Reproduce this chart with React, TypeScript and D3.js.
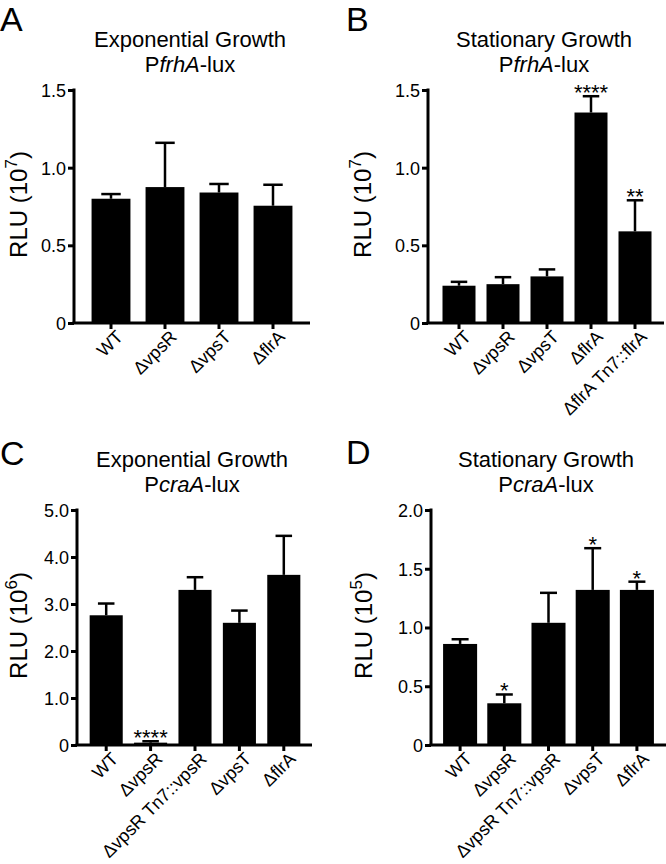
import React, { useEffect, useRef } from 'react';
import * as d3 from "d3";

// panel A: exponential growth, PfrhA-lux (RLU x10^7)
const catsA = ["WT", "ΔvpsR", "ΔvpsT", "ΔflrA"];
const meanA = [0.80, 0.875, 0.84, 0.755];
const semA = [0.03, 0.285, 0.055, 0.135];
const starsA = ["", "", "", ""];
const ticksA = [0, 0.5, 1.0, 1.5];

// panel B: stationary growth, PfrhA-lux (RLU x10^7)
const catsB = ["WT", "ΔvpsR", "ΔvpsT", "ΔflrA", "ΔflrA Tn7::flrA"];
const meanB = [0.24, 0.25, 0.30, 1.355, 0.59];
const semB = [0.025, 0.045, 0.045, 0.105, 0.20];
const starsB = ["", "", "", "****", "**"];
const ticksB = [0, 0.5, 1.0, 1.5];

// panel C: exponential growth, PcraA-lux (RLU x10^6)
const catsC = ["WT", "ΔvpsR", "ΔvpsR Tn7::vpsR", "ΔvpsT", "ΔflrA"];
const meanC = [2.76, 0.05, 3.30, 2.60, 3.62];
const semC = [0.25, 0.03, 0.27, 0.26, 0.83];
const starsC = ["", "****", "", "", ""];
const ticksC = [0, 1.0, 2.0, 3.0, 4.0, 5.0];

// panel D: stationary growth, PcraA-lux (RLU x10^5)
const catsD = ["WT", "ΔvpsR", "ΔvpsR Tn7::vpsR", "ΔvpsT", "ΔflrA"];
const meanD = [0.86, 0.355, 1.04, 1.32, 1.32];
const semD = [0.04, 0.075, 0.255, 0.355, 0.07];
const starsD = ["", "*", "", "*", "*"];
const ticksD = [0, 0.5, 1.0, 1.5, 2.0];

const FONT = "'Liberation Sans', Arial, Helvetica, sans-serif";
const ITALIC = /(frhA|craA)/;

interface PanelSpec {
  letter: string;
  title: string;
  subtitle: string;
  exponent: string;
  cats: string[];
  mean: number[];
  sem: number[];
  stars: string[];
  ticks: number[];
  fmt: (d: number) => string;
  // layout
  x0: number; x1: number; yTop: number; yZero: number;
  band: [number, number]; pad: number;
  lx: number; ly: number; tx: number; ty: number; ax: number;
}

const fmt1 = (d: number) => d === 0 ? "0" : d.toFixed(1);

const panels: PanelSpec[] = [
  {
    letter: "A", title: "Exponential Growth", subtitle: "PfrhA-lux", exponent: "7",
    cats: catsA, mean: meanA, sem: semA, stars: starsA, ticks: ticksA, fmt: fmt1,
    x0: 74, x1: 310, yTop: 90, yZero: 323, band: [84, 300], pad: 0.28,
    lx: 0, ly: 31, tx: 190, ty: 47, ax: 27
  },
  {
    letter: "B", title: "Stationary Growth", subtitle: "PfrhA-lux", exponent: "7",
    cats: catsB, mean: meanB, sem: semB, stars: starsB, ticks: ticksB, fmt: fmt1,
    x0: 428, x1: 664, yTop: 90, yZero: 323, band: [437, 657], pad: 0.25,
    lx: 346, ly: 31, tx: 544, ty: 47, ax: 371
  },
  {
    letter: "C", title: "Exponential Growth", subtitle: "PcraA-lux", exponent: "6",
    cats: catsC, mean: meanC, sem: semC, stars: starsC, ticks: ticksC, fmt: fmt1,
    x0: 77, x1: 312, yTop: 510, yZero: 745, band: [84, 306], pad: 0.255,
    lx: 0, ly: 465, tx: 192, ty: 467, ax: 27
  },
  {
    letter: "D", title: "Stationary Growth", subtitle: "PcraA-lux", exponent: "5",
    cats: catsD, mean: meanD, sem: semD, stars: starsD, ticks: ticksD, fmt: fmt1,
    x0: 431, x1: 666, yTop: 510, yZero: 745, band: [438, 659], pad: 0.23,
    lx: 346, ly: 464, tx: 546, ty: 467, ax: 372
  }
];

// split a label into plain / italic pieces
function rich(sel: d3.Selection<SVGTextElement, unknown, null, undefined>, str: string) {
  str.split(ITALIC).filter(s => s !== "").forEach(part => {
    sel.append("tspan")
      .attr("font-style", ITALIC.test(part) ? "italic" : "normal")
      .text(part);
  });
}

function drawPanel(svg: d3.Selection<SVGSVGElement, unknown, null, undefined>, p: PanelSpec) {
  const g = svg.append("g");
  const top = p.ticks[p.ticks.length - 1];

  const y = d3.scaleLinear().domain([0, top]).range([p.yZero, p.yTop]);
  const x = d3.scaleBand<string>().domain(p.cats).range(p.band)
    .paddingInner(p.pad).paddingOuter(p.pad / 2);
  const bw = x.bandwidth();

  // panel letter
  g.append("text")
    .attr("x", p.lx).attr("y", p.ly)
    .attr("font-size", 34)
    .text(p.letter);

  // title
  g.append("text")
    .attr("x", p.tx).attr("y", p.ty)
    .attr("text-anchor", "middle")
    .attr("font-size", 22)
    .text(p.title);
  const sub = g.append("text")
    .attr("x", p.tx).attr("y", p.ty + 25)
    .attr("text-anchor", "middle")
    .attr("font-size", 22);
  rich(sub, p.subtitle);

  // bars
  g.selectAll(".bar")
    .data(p.cats)
    .enter().append("rect")
    .attr("x", d => x(d) as number)
    .attr("y", (d, i) => y(p.mean[i]))
    .attr("width", bw)
    .attr("height", (d, i) => p.yZero - y(p.mean[i]))
    .attr("fill", "#000");

  // error bars (upper only)
  const cap = bw * 0.25;
  p.cats.forEach((c, i) => {
    const cx = (x(c) as number) + bw / 2;
    const yt = y(p.mean[i] + p.sem[i]);
    g.append("line")
      .attr("x1", cx).attr("x2", cx)
      .attr("y1", y(p.mean[i])).attr("y2", yt)
      .attr("stroke", "#000").attr("stroke-width", 2.5);
    g.append("line")
      .attr("x1", cx - cap).attr("x2", cx + cap)
      .attr("y1", yt).attr("y2", yt)
      .attr("stroke", "#000").attr("stroke-width", 2.5);
    if (p.stars[i]) {
      g.append("text")
        .attr("x", cx).attr("y", yt + 4)
        .attr("text-anchor", "middle")
        .attr("font-size", 22)
        .text(p.stars[i]);
    }
  });

  // y axis
  const yAxis = g.append("g")
    .attr("transform", "translate(" + p.x0 + ",0)")
    .call(d3.axisLeft(y).tickValues(p.ticks).tickFormat(d => p.fmt(d as number)).tickSize(6).tickSizeOuter(0));
  yAxis.select(".domain").remove();
  yAxis.selectAll(".tick line").attr("stroke-width", 3);
  yAxis.selectAll(".tick text")
    .attr("font-size", 18).attr("font-family", FONT).attr("fill", "#000")
    .attr("x", -8).attr("dy", "0.36em");
  g.append("line")
    .attr("x1", p.x0).attr("x2", p.x0)
    .attr("y1", p.yTop - 1.5).attr("y2", p.yZero)
    .attr("stroke", "#000").attr("stroke-width", 3);

  // x axis
  const xAxis = g.append("g")
    .attr("transform", "translate(0," + p.yZero + ")")
    .call(d3.axisBottom(x).tickFormat(() => "").tickSize(6).tickSizeOuter(0));
  xAxis.select(".domain").remove();
  xAxis.selectAll(".tick line").attr("stroke-width", 3);
  g.append("line")
    .attr("x1", p.x0 - 1.5).attr("x2", p.x1)
    .attr("y1", p.yZero).attr("y2", p.yZero)
    .attr("stroke", "#000").attr("stroke-width", 3);

  p.cats.forEach(c => {
    const cx = (x(c) as number) + bw / 2;
    g.append("text")
      .attr("transform", "translate(" + (cx + 13) + "," + (p.yZero + 15) + ") rotate(-45)")
      .attr("text-anchor", "end")
      .attr("font-size", 18)
      .text(c);
  });

  // y label
  const mid = (p.yTop + p.yZero) / 2;
  const yl = g.append("text")
    .attr("transform", "translate(" + p.ax + "," + (mid - 2) + ") rotate(-90)")
    .attr("text-anchor", "middle")
    .attr("font-size", 24);
  yl.append("tspan").text("RLU (10");
  yl.append("tspan").attr("font-size", 17).attr("dy", -10).text(p.exponent);
  yl.append("tspan").attr("dy", 10).text(")");
}

function App() {
  const ref = useRef<SVGSVGElement>(null);

  useEffect(() => {
    if (ref.current == null) return;
    const svg = d3.select(ref.current);
    svg.selectAll("*").remove();
    panels.forEach(p => drawPanel(svg, p));
  }, []);

  return (
    <svg ref={ref} width={666} height={864}
      style={{ position: "absolute", left: 0, top: 0, background: "#fff", fontFamily: FONT }} />
  );
}

export default App;
